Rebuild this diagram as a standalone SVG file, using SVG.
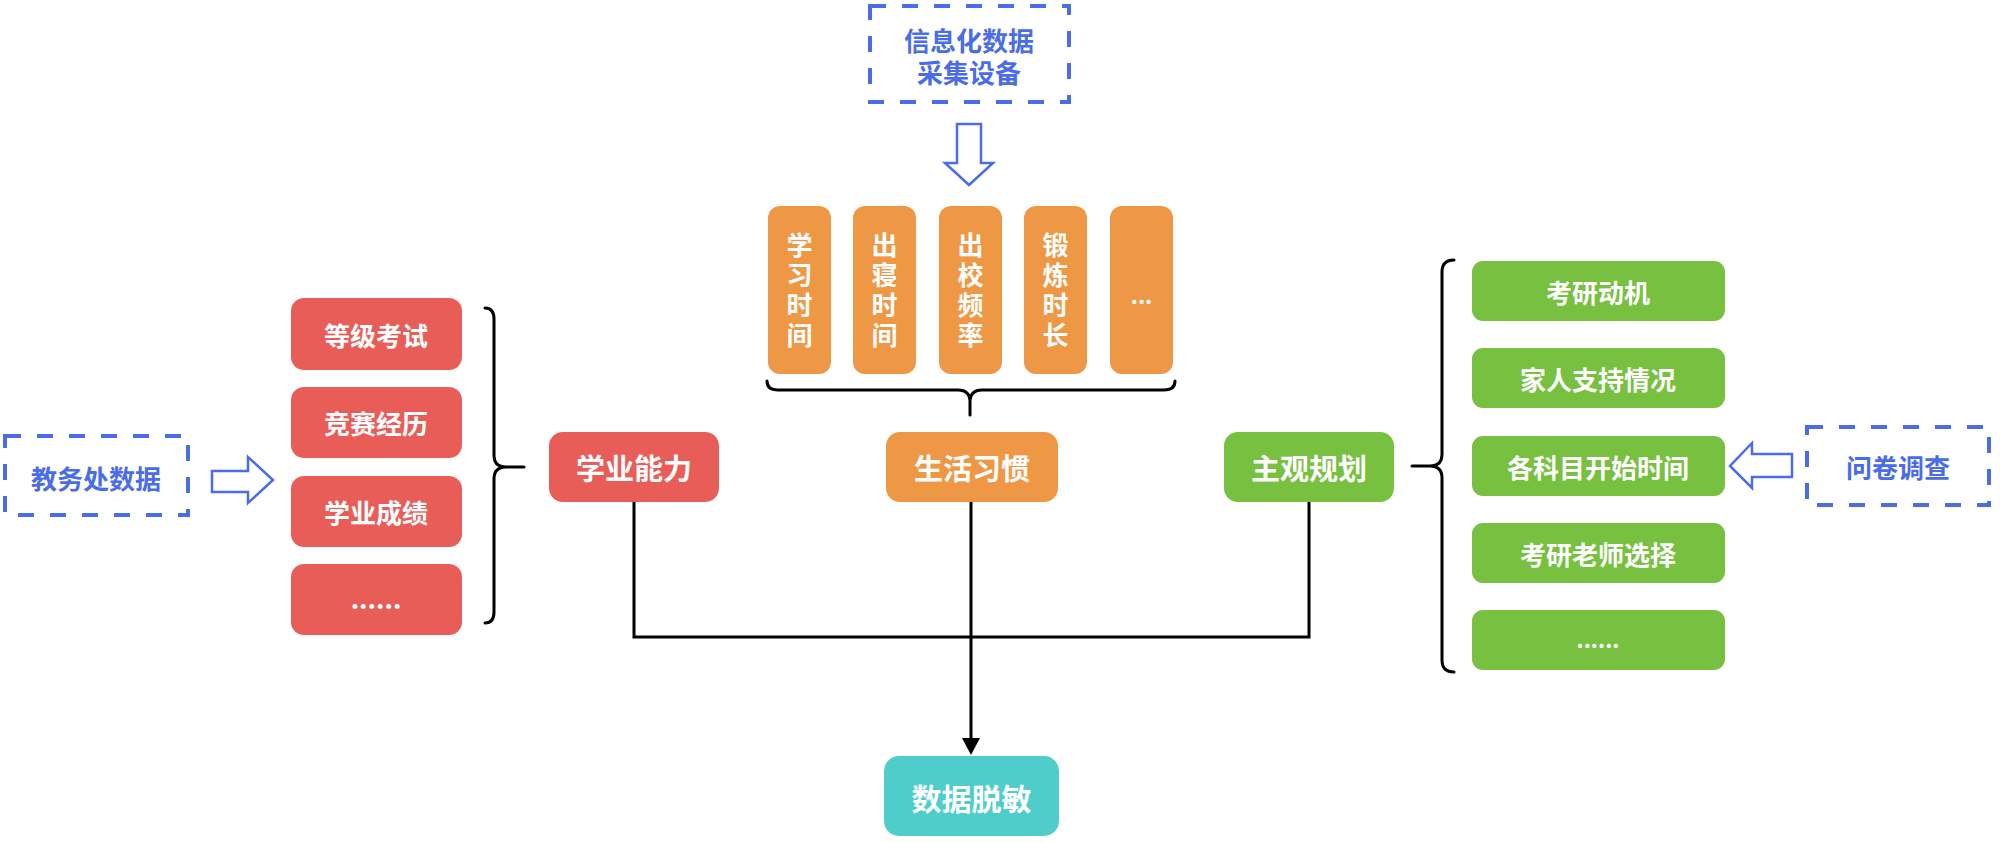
<svg xmlns="http://www.w3.org/2000/svg" width="2000" height="843" viewBox="0 0 2000 843">
<defs>
<style>
text{font-family:"Noto Sans CJK SC","Noto Sans",sans-serif;font-weight:bold;text-anchor:middle;dominant-baseline:central;}
.w{fill:#ffffff;}
.lbl{font-size:26px;}
.main{font-size:29px;}
.src{fill:#4A6CE8;font-size:26px;}
.dash{fill:#ffffff;stroke:#4A6CE8;stroke-width:4;stroke-dasharray:16 16;}
.hollow{fill:#ffffff;stroke:#4A6CE8;stroke-width:2.5;stroke-linejoin:miter;}
.red{fill:#E95D59;}
.org{fill:#EE9845;}
.grn{fill:#77C040;}
.teal{fill:#4ECDCB;}
.brace{fill:none;stroke:#000000;stroke-width:3;stroke-linejoin:round;stroke-linecap:round;}
.conn{fill:none;stroke:#000000;stroke-width:3;}
</style>
<marker id="arr" markerWidth="18" markerHeight="18" refX="9" refY="17" orient="auto-start-reverse" markerUnits="userSpaceOnUse" viewBox="0 0 18 18">
<path d="M0,0 L18,0 L9,17 Z" fill="#000000"/>
</marker>
</defs>
<rect x="0" y="0" width="2000" height="843" fill="#ffffff"/>

<g id="connectors">
<path class="conn" d="M634,502 L634,637 L1309,637 L1309,502"/>
<path class="conn" d="M971,502 L971,740"/>
<path d="M962,738 L980,738 L971,755 Z" fill="#000000"/>
</g>

<g id="src-info">
<rect class="dash" x="870" y="6" width="199" height="96"/>
<text class="src" x="969" y="39">信息化数据</text>
<text class="src" x="969" y="71">采集设备</text>
</g>
<g id="arrow-down">
<polygon class="hollow" points="957,124 981,124 981,163 993,163 969,185 945,163 957,163"/>
</g>

<g id="src-jwc">
<rect class="dash" x="5" y="436" width="183" height="79"/>
<text class="src" x="96" y="477">教务处数据</text>
</g>
<g id="arrow-right">
<polygon class="hollow" points="212,471 248,471 248,457 273,480 248,503 248,492 212,492"/>
</g>

<g id="src-survey">
<rect class="dash" x="1807" y="427" width="182" height="78"/>
<text class="src" x="1898" y="466">问卷调查</text>
</g>
<g id="arrow-left">
<polygon class="hollow" points="1792,454 1752,454 1752,443 1730,466 1752,488 1752,477 1792,477"/>
</g>

<g id="red1"><rect class="red" x="291" y="298" width="171" height="72" rx="13"/><text class="w lbl" x="376" y="334">等级考试</text></g>
<g id="red2"><rect class="red" x="291" y="387" width="171" height="71" rx="13"/><text class="w lbl" x="376" y="422">竞赛经历</text></g>
<g id="red3"><rect class="red" x="291" y="476" width="171" height="71" rx="13"/><text class="w lbl" x="376" y="511">学业成绩</text></g>
<g id="red4"><rect class="red" x="291" y="564" width="171" height="71" rx="13"/><text class="w lbl" x="376" y="597">......</text></g>

<g id="brace-left"><path class="brace" d="M485,308 Q494,308 494,319 L494,455 Q494,467 506,467 L524,467 L506,467 Q494,467 494,479 L494,612 Q494,623 485,623"/></g>

<g id="org1"><rect class="org" x="768" y="206" width="63" height="168" rx="12"/><text class="w lbl" x="799.5"><tspan x="799.5" y="243">学</tspan><tspan x="799.5" y="273">习</tspan><tspan x="799.5" y="303">时</tspan><tspan x="799.5" y="333">间</tspan></text></g>
<g id="org2"><rect class="org" x="853" y="206" width="63" height="168" rx="12"/><text class="w lbl" x="884.5"><tspan x="884.5" y="243">出</tspan><tspan x="884.5" y="273">寝</tspan><tspan x="884.5" y="303">时</tspan><tspan x="884.5" y="333">间</tspan></text></g>
<g id="org3"><rect class="org" x="939" y="206" width="63" height="168" rx="12"/><text class="w lbl" x="970.5"><tspan x="970.5" y="243">出</tspan><tspan x="970.5" y="273">校</tspan><tspan x="970.5" y="303">频</tspan><tspan x="970.5" y="333">率</tspan></text></g>
<g id="org4"><rect class="org" x="1024" y="206" width="63" height="168" rx="12"/><text class="w lbl" x="1055.5"><tspan x="1055.5" y="243">锻</tspan><tspan x="1055.5" y="273">炼</tspan><tspan x="1055.5" y="303">时</tspan><tspan x="1055.5" y="333">长</tspan></text></g>
<g id="org5"><rect class="org" x="1110" y="206" width="63" height="168" rx="12"/><text class="w" style="font-size:22px" x="1141.5" y="294">...</text></g>

<g id="brace-bottom"><path class="brace" d="M767,381 Q767,390 778,390 L958,390 Q970,390 970,402 L970,415 L970,402 Q970,390 982,390 L1164,390 Q1175,390 1175,381"/></g>

<g id="xueye"><rect class="red" x="549" y="432" width="170" height="70" rx="14"/><text class="w main" x="634" y="467">学业能力</text></g>
<g id="shenghuo"><rect class="org" x="886" y="432" width="172" height="70" rx="14"/><text class="w main" x="972" y="467">生活习惯</text></g>
<g id="zhuguan"><rect class="grn" x="1224" y="432" width="170" height="70" rx="14"/><text class="w main" x="1309" y="467">主观规划</text></g>

<g id="brace-right"><path class="brace" d="M1454,260 Q1442,260 1442,272 L1442,454 Q1442,466 1430,466 L1412,466 L1430,466 Q1442,466 1442,478 L1442,660 Q1442,672 1454,672"/></g>

<g id="grn1"><rect class="grn" x="1472" y="261" width="253" height="60" rx="11"/><text class="w lbl" x="1598" y="291">考研动机</text></g>
<g id="grn2"><rect class="grn" x="1472" y="348" width="253" height="60" rx="11"/><text class="w lbl" x="1598" y="378">家人支持情况</text></g>
<g id="grn3"><rect class="grn" x="1472" y="436" width="253" height="60" rx="11"/><text class="w lbl" x="1598" y="466">各科目开始时间</text></g>
<g id="grn4"><rect class="grn" x="1472" y="523" width="253" height="60" rx="11"/><text class="w lbl" x="1598" y="553">考研老师选择</text></g>
<g id="grn5"><rect class="grn" x="1472" y="610" width="253" height="60" rx="11"/><text class="w" style="font-size:22px" x="1598" y="638">......</text></g>

<g id="tuomin"><rect class="teal" x="884" y="756" width="175" height="80" rx="15"/><text class="w" style="font-size:30px" x="971.5" y="797">数据脱敏</text></g>
</svg>
